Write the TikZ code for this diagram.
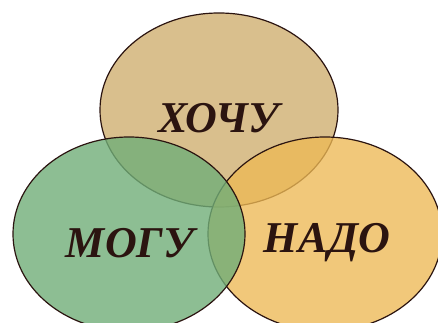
\documentclass[tikz,border=0pt]{standalone}
\usepackage{fontspec}
\setmainfont{Liberation Serif}
\usepackage{tikz}

\definecolor{wantfill}{RGB}{217,191,141}
\definecolor{canfill}{RGB}{112,174,120}
\definecolor{mustfill}{RGB}{237,185,85}
\definecolor{rimcol}{RGB}{43,20,16}

\begin{document}
\begin{tikzpicture}[x=1pt,y=-1pt,
  rim/.style={draw=rimcol,line width=1.2pt},
  word/.style={text=rimcol,font=\fontsize{44}{44}\selectfont\bfseries\itshape,inner sep=0pt}]
\useasboundingbox (0,0) rectangle (438,323);
\draw[rim,fill=wantfill] (219,110) ellipse [x radius=119pt, y radius=97pt];
\draw[rim,fill=mustfill,fill opacity=.78] (325,234) ellipse [x radius=117pt, y radius=97pt];
\draw[rim,fill=canfill,fill opacity=.8] (129,234) ellipse [x radius=116pt, y radius=97pt];
  \node[word] (want) at (219,118) {ХОЧУ};
  \node[word] (can) at (130,243) {МОГУ};
  \node[word] (must) at (327,243) {НАДО};
\end{tikzpicture}
\end{document}
